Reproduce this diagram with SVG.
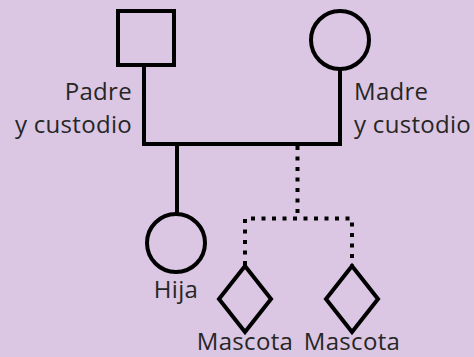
<svg xmlns="http://www.w3.org/2000/svg" width="474" height="357" viewBox="0 0 474 357">
<style>
.shape{fill:none;stroke:#000;stroke-width:4}
.line{fill:none;stroke:#000;stroke-width:4}
.dot{fill:none;stroke:#000;stroke-width:4;stroke-dasharray:4 6.5}
.lbl{font-family:"Open Sans","Noto Sans",sans-serif;font-size:24px;letter-spacing:0.3px;fill:#262626}
</style>
<rect width="474" height="357" fill="#dbc6e3"/>
<g id="connectors">
<polyline class="line" points="144,65 144,144 340,144 340,70"/>
<line class="line" x1="177" y1="144" x2="177" y2="214"/>
<line class="dot" x1="297.5" y1="146" x2="297.5" y2="218"/>
<polyline class="dot" points="245,265 245,218.5 352,218.5 352,265"/>
</g>
<g id="padre">
<rect class="shape" x="118" y="11" width="56" height="54"/>
<text class="lbl" x="132" y="100" text-anchor="end">Padre</text>
<text class="lbl" x="132" y="133" text-anchor="end">y custodio</text>
</g>
<g id="madre">
<circle class="shape" cx="340" cy="40" r="29"/>
<text class="lbl" x="354" y="100">Madre</text>
<text class="lbl" x="354" y="133">y custodio</text>
</g>
<g id="hija">
<circle class="shape" cx="176" cy="243" r="29"/>
<text class="lbl" x="176" y="298" text-anchor="middle">Hija</text>
</g>
<g id="mascota1">
<polygon class="shape" points="245,266 271,299 245,332 219,299"/>
<text class="lbl" x="245" y="350" text-anchor="middle">Mascota</text>
</g>
<g id="mascota2">
<polygon class="shape" points="352,266 378,299 352,332 326,299"/>
<text class="lbl" x="352" y="350" text-anchor="middle">Mascota</text>
</g>
</svg>
